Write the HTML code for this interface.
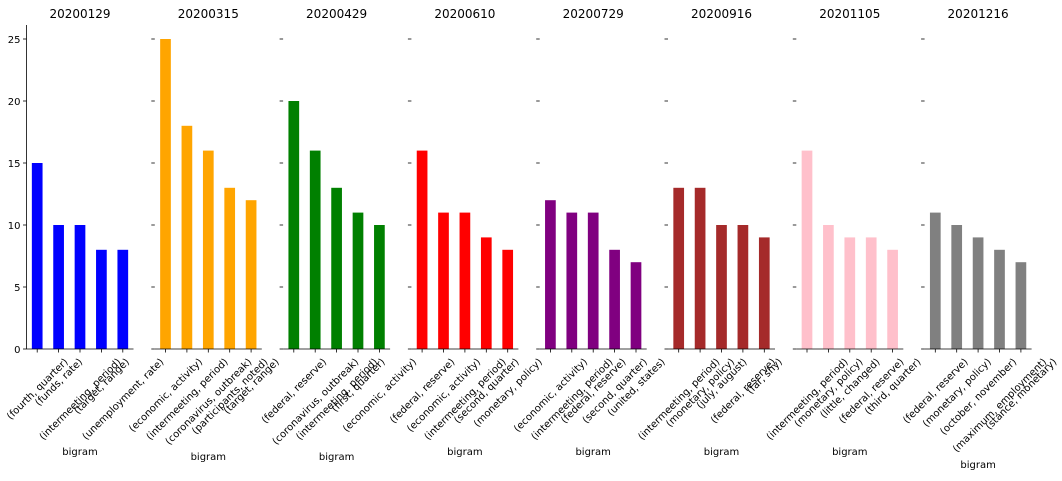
<!DOCTYPE html>
<html><head><meta charset="utf-8"><style>body{margin:0;background:#fff}svg{display:block;font-family:"DejaVu Sans","Liberation Sans",sans-serif}</style></head>
<body>
<svg id="c" width="1062" height="481"></svg>
<script>
const titles=["20200129","20200315","20200429","20200610","20200729","20200916","20201105","20201216"];
const colors=["blue","orange","green","red","purple","brown","pink","gray"];
const cats=[
["(fourth, quarter)","(funds, rate)","(intermeeting, period)","(target, range)","(unemployment, rate)"],
["(economic, activity)","(intermeeting, period)","(coronavirus, outbreak)","(participants, noted)","(target, range)"],
["(federal, reserve)","(coronavirus, outbreak)","(intermeeting, period)","(first, quarter)","(economic, activity)"],
["(federal, reserve)","(economic, activity)","(intermeeting, period)","(second, quarter)","(monetary, policy)"],
["(economic, activity)","(intermeeting, period)","(federal, reserve)","(second, quarter)","(united, states)"],
["(intermeeting, period)","(monetary, policy)","(july, august)","(federal, reserve)","(far, shy)"],
["(intermeeting, period)","(monetary, policy)","(little, changed)","(federal, reserve)","(third, quarter)"],
["(federal, reserve)","(monetary, policy)","(october, november)","(maximum, employment)","(stance, monetary)"]];
const vals=[[15,10,10,8,8],[25,18,16,13,12],[20,16,13,11,10],[16,11,11,9,8],[12,11,11,8,7],[13,13,10,10,9],[16,10,9,9,8],[11,10,9,8,7]];
const yticks=[0,5,10,15,20,25];
const xlabY=[455,460,460,455,455,455,455,468];
const svg=document.getElementById('c');const NS='http://www.w3.org/2000/svg';
function mk(t,a,p){const e=document.createElementNS(NS,t);for(const k in a)e.setAttribute(k,a[k]);(p||svg).appendChild(e);return e;}
const y0=349,ppu=12.4,step=21.4,bw=10.7;
function Y(v){return y0-v*ppu;}
vals.forEach((vs,i)=>{
 const L=26.5+i*128.3,R=L+107;
 const g=mk('g',{});
 
 
 const t=mk('text',{x:(L+R)/2,y:18,'text-anchor':'middle','font-size':12,fill:'#000'},g);t.textContent=titles[i];
 
 yticks.forEach(v=>{
  mk('line',{x1:L-3.5,x2:L,y1:Y(v),y2:Y(v),stroke:'#000','stroke-width':0.8},g);
  if(i===0){const tx=mk('text',{x:L-6,y:Y(v)+4,'text-anchor':'end','font-size':10,fill:'#000'},g);tx.textContent=v;
   }
 });
 if(i===0)mk('line',{x1:L,x2:L,y1:y0,y2:Y(25)-14,stroke:'#000','stroke-width':0.8},g);
 vs.forEach((v,j)=>{
  const cx=L+step*(j+0.5);
  const r=mk('rect',{x:cx-bw/2,y:Y(v),width:bw,height:v*ppu,fill:colors[i]},g);
  
  mk('line',{x1:cx,x2:cx,y1:y0,y2:y0+3.5,stroke:'#000','stroke-width':0.8},g);
  const tx=mk('text',{x:cx,y:0,'text-anchor':'middle','font-size':10,fill:'#000'},g);
  tx.textContent=cats[i][j];
  
  const w=tx.getComputedTextLength();
  const h=(w+11)*0.7071;
  const cy=y0+7+h/2;
  tx.setAttribute('y',cy+3.5);
  tx.setAttribute('transform',`rotate(-45 ${cx} ${cy})`);
 });
 mk('line',{x1:L,x2:R,y1:y0,y2:y0,stroke:'#000','stroke-width':0.8},g);
 const xl=mk('text',{x:(L+R)/2,y:xlabY[i],'text-anchor':'middle','font-size':10,fill:'#000'},g);xl.textContent='bigram';
 
});
</script>
</body></html>
